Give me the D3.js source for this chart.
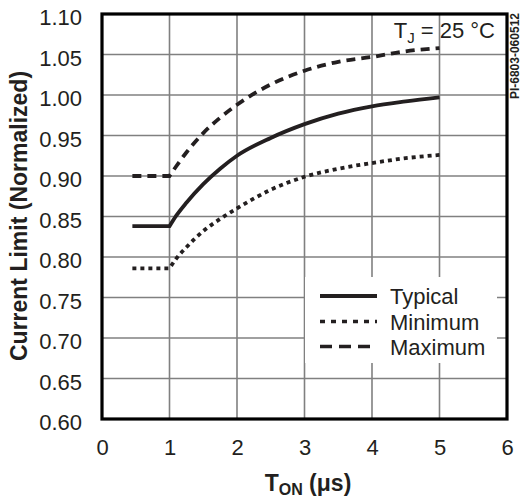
<!DOCTYPE html>
<html>
<head>
<meta charset="utf-8">
<script src="https://cdn.jsdelivr.net/npm/d3@7"></script>
<style>
  html, body { margin: 0; padding: 0; background: #fff; }
  svg { display: block; }
  text { font-family: "Liberation Sans", Arial, Helvetica, sans-serif; fill: #231f20; }
</style>
</head>
<body>
<svg id="chart" width="522" height="499"></svg>
<script>
// ---- data ----
const tOn     = [0.45, 1.0, 1.1, 1.25, 1.5, 1.75, 2.0, 2.5, 3.0, 3.5, 4.0, 4.5, 5.0];
const typical = [0.838, 0.838, 0.851, 0.867, 0.890, 0.909, 0.925, 0.947, 0.964, 0.977, 0.986, 0.992, 0.997];
const minimum = [0.786, 0.786, 0.798, 0.812, 0.832, 0.847, 0.860, 0.883, 0.899, 0.909, 0.916, 0.922, 0.926];
const maximum = [0.900, 0.900, 0.912, 0.929, 0.953, 0.972, 0.988, 1.013, 1.030, 1.041, 1.047, 1.054, 1.058];
const seriesNames = ["Typical", "Minimum", "Maximum"];
const xTicks = [0, 1, 2, 3, 4, 5, 6];
const yTicks = [0.60, 0.65, 0.70, 0.75, 0.80, 0.85, 0.90, 0.95, 1.00, 1.05, 1.10];
const kinkIndex = 1; // flat segment ends at T_ON = 1 µs

// ---- layout ----
const ink = "#231f20";
const margin = { left: 102, top: 14, right: 15, bottom: 80 };
const pw = 405, ph = 405;

const svg = d3.select("#chart");
const g = svg.append("g").attr("transform", `translate(${margin.left},${margin.top})`);

const x = d3.scaleLinear().domain([0, 6]).range([0, pw]);
const y = d3.scaleLinear().domain([0.6, 1.1]).range([ph, 0]);

// grid
g.append("g").selectAll("line").data(xTicks.slice(1, -1)).join("line")
  .attr("x1", d => x(d)).attr("x2", d => x(d)).attr("y1", 0).attr("y2", ph)
  .attr("stroke", "#808080").attr("stroke-width", 1.6);
g.append("g").selectAll("line").data(yTicks.slice(1, -1)).join("line")
  .attr("y1", d => y(d)).attr("y2", d => y(d)).attr("x1", 0).attr("x2", pw)
  .attr("stroke", "#808080").attr("stroke-width", 1.6);

// axes labels (tick text only)
const xAxis = d3.axisBottom(x).tickValues(xTicks).tickFormat(d3.format("d")).tickSize(0).tickPadding(0);
const xg = g.append("g").attr("transform", `translate(0,${ph})`).call(xAxis);
xg.select(".domain").remove();
xg.selectAll("text").attr("font-size", 22).attr("dy", null).attr("y", 36)
  .style("font-family", '"Liberation Sans", Arial, sans-serif').attr("fill", ink);

const yAxis = d3.axisLeft(y).tickValues(yTicks).tickFormat(d3.format(".2f")).tickSize(0).tickPadding(0);
const yg = g.append("g").call(yAxis);
yg.select(".domain").remove();
yg.selectAll("text").attr("font-size", 22).attr("x", -20).attr("dy", "0.48em")
  .style("font-family", '"Liberation Sans", Arial, sans-serif').attr("fill", ink);

// legend background
const legend = g.append("g").attr("transform", `translate(${305 - margin.left},${277 - margin.top})`);
legend.append("rect").attr("x", 0).attr("y", 0).attr("width", 192).attr("height", 86).attr("fill", "#fff");

// curves: flat part linear, rising part smooth
const styles = {
  Typical: { dash: null, width: 3.8 },
  Minimum: { dash: "4,4", width: 3.8 },
  Maximum: { dash: "9,6", width: 3.8 }
};
const lin = d3.line().x(d => x(d[0])).y(d => y(d[1]));
const smooth = d3.line().x(d => x(d[0])).y(d => y(d[1])).curve(d3.curveMonotoneX);
function pathFor(vals) {
  const pts = tOn.map((t, i) => [t, vals[i]]);
  const flat = lin(pts.slice(0, kinkIndex + 1));
  const rise = smooth(pts.slice(kinkIndex)).replace(/^M[^LC]*/, "");
  return flat + rise;
}
const seriesVals = { Typical: typical, Minimum: minimum, Maximum: maximum };
seriesNames.forEach(name => {
  g.append("path").attr("d", pathFor(seriesVals[name]))
    .attr("fill", "none").attr("stroke", ink)
    .attr("stroke-width", styles[name].width)
    .attr("stroke-dasharray", styles[name].dash);
});

// legend entries
const legendDash = { Typical: null, Minimum: "5,6", Maximum: "12,7" };
const legendY = [19, 44.5, 69.5];
seriesNames.forEach((name, i) => {
  legend.append("line").attr("x1", 15).attr("x2", 72).attr("y1", legendY[i]).attr("y2", legendY[i])
    .attr("stroke", ink).attr("stroke-width", name === "Typical" ? 4 : 3.6)
    .attr("stroke-dasharray", legendDash[name]);
  legend.append("text").attr("x", 85).attr("y", legendY[i] + 8).attr("font-size", 22).text(name);
});

// frame
g.append("rect").attr("x", 0).attr("y", 0).attr("width", pw).attr("height", ph)
  .attr("fill", "none").attr("stroke", "#000").attr("stroke-width", 3.2);

// T_J annotation
const tj = g.append("text").attr("x", pw - 12).attr("y", 24).attr("text-anchor", "end").attr("font-size", 22);
tj.append("tspan").text("T");
tj.append("tspan").attr("font-size", 15).attr("dy", 5).text("J");
tj.append("tspan").attr("dy", -5).text(" = 25 °C");

// axis titles
svg.append("text")
  .attr("transform", `translate(27,${216}) rotate(-90)`)
  .attr("text-anchor", "middle").attr("font-size", 23).attr("font-weight", "bold")
  .text("Current Limit (Normalized)");

const xt = svg.append("text").attr("x", 308).attr("y", 491).attr("text-anchor", "middle")
  .attr("font-size", 23).attr("font-weight", "bold");
xt.append("tspan").text("T");
xt.append("tspan").attr("font-size", 16).attr("dy", 4).text("ON");
xt.append("tspan").attr("dy", -4).text(" (μs)");

// figure id
svg.append("text")
  .attr("transform", `translate(518.5,13) rotate(-90)`)
  .attr("text-anchor", "end").attr("font-size", 12).attr("font-weight", "bold")
  .text("PI-6803-060512");
</script>
</body>
</html>
